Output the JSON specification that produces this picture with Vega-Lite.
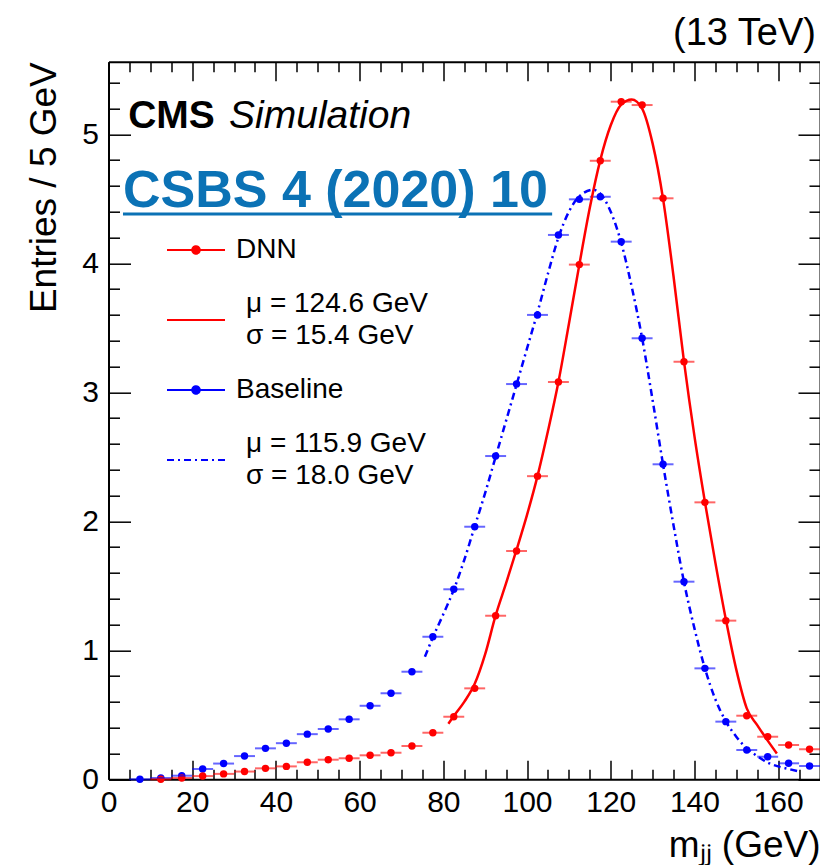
{
  "$schema": "https://vega.github.io/schema/vega-lite/v6.json",
  "width": 711.5,
  "height": 717.6,
  "autosize": {"type": "none"},
  "padding": {"left": 108.5, "top": 61.7, "right": 0, "bottom": 85.7},
  "title": {"text": "(13 TeV)", "anchor": "end", "fontSize": 38, "fontWeight": "normal", "font": "Liberation Sans", "color": "#000", "offset": 8, "dx": -5},
  "datasets": {
    "hist": [
      {"series": "Baseline", "m": 7.5, "lo": 5, "hi": 10, "entries": 0.0},
      {"series": "Baseline", "m": 12.5, "lo": 10, "hi": 15, "entries": 0.01},
      {"series": "Baseline", "m": 17.5, "lo": 15, "hi": 20, "entries": 0.028},
      {"series": "Baseline", "m": 22.5, "lo": 20, "hi": 25, "entries": 0.08},
      {"series": "Baseline", "m": 27.5, "lo": 25, "hi": 30, "entries": 0.122},
      {"series": "Baseline", "m": 32.5, "lo": 30, "hi": 35, "entries": 0.18},
      {"series": "Baseline", "m": 37.5, "lo": 35, "hi": 40, "entries": 0.24},
      {"series": "Baseline", "m": 42.5, "lo": 40, "hi": 45, "entries": 0.28},
      {"series": "Baseline", "m": 47.5, "lo": 45, "hi": 50, "entries": 0.35},
      {"series": "Baseline", "m": 52.5, "lo": 50, "hi": 55, "entries": 0.39},
      {"series": "Baseline", "m": 57.5, "lo": 55, "hi": 60, "entries": 0.465},
      {"series": "Baseline", "m": 62.5, "lo": 60, "hi": 65, "entries": 0.57},
      {"series": "Baseline", "m": 67.5, "lo": 65, "hi": 70, "entries": 0.667},
      {"series": "Baseline", "m": 72.5, "lo": 70, "hi": 75, "entries": 0.834},
      {"series": "Baseline", "m": 77.5, "lo": 75, "hi": 80, "entries": 1.105},
      {"series": "Baseline", "m": 82.5, "lo": 80, "hi": 85, "entries": 1.473},
      {"series": "Baseline", "m": 87.5, "lo": 85, "hi": 90, "entries": 1.958},
      {"series": "Baseline", "m": 92.5, "lo": 90, "hi": 95, "entries": 2.506},
      {"series": "Baseline", "m": 97.5, "lo": 95, "hi": 100, "entries": 3.064},
      {"series": "Baseline", "m": 102.5, "lo": 100, "hi": 105, "entries": 3.6},
      {"series": "Baseline", "m": 107.5, "lo": 105, "hi": 110, "entries": 4.22},
      {"series": "Baseline", "m": 112.5, "lo": 110, "hi": 115, "entries": 4.496},
      {"series": "Baseline", "m": 117.5, "lo": 115, "hi": 120, "entries": 4.516},
      {"series": "Baseline", "m": 122.5, "lo": 120, "hi": 125, "entries": 4.168},
      {"series": "Baseline", "m": 127.5, "lo": 125, "hi": 130, "entries": 3.419},
      {"series": "Baseline", "m": 132.5, "lo": 130, "hi": 135, "entries": 2.442},
      {"series": "Baseline", "m": 137.5, "lo": 135, "hi": 140, "entries": 1.532},
      {"series": "Baseline", "m": 142.5, "lo": 140, "hi": 145, "entries": 0.86},
      {"series": "Baseline", "m": 147.5, "lo": 145, "hi": 150, "entries": 0.447},
      {"series": "Baseline", "m": 152.5, "lo": 150, "hi": 155, "entries": 0.227},
      {"series": "Baseline", "m": 157.5, "lo": 155, "hi": 160, "entries": 0.175},
      {"series": "Baseline", "m": 162.5, "lo": 160, "hi": 165, "entries": 0.124},
      {"series": "Baseline", "m": 167.5, "lo": 165, "hi": 170, "entries": 0.103},
      {"series": "DNN", "m": 12.5, "lo": 10, "hi": 15, "entries": 0.0},
      {"series": "DNN", "m": 17.5, "lo": 15, "hi": 20, "entries": 0.01},
      {"series": "DNN", "m": 22.5, "lo": 20, "hi": 25, "entries": 0.025},
      {"series": "DNN", "m": 27.5, "lo": 25, "hi": 30, "entries": 0.042},
      {"series": "DNN", "m": 32.5, "lo": 30, "hi": 35, "entries": 0.06},
      {"series": "DNN", "m": 37.5, "lo": 35, "hi": 40, "entries": 0.085},
      {"series": "DNN", "m": 42.5, "lo": 40, "hi": 45, "entries": 0.1},
      {"series": "DNN", "m": 47.5, "lo": 45, "hi": 50, "entries": 0.132},
      {"series": "DNN", "m": 52.5, "lo": 50, "hi": 55, "entries": 0.152},
      {"series": "DNN", "m": 57.5, "lo": 55, "hi": 60, "entries": 0.163},
      {"series": "DNN", "m": 62.5, "lo": 60, "hi": 65, "entries": 0.186},
      {"series": "DNN", "m": 67.5, "lo": 65, "hi": 70, "entries": 0.206},
      {"series": "DNN", "m": 72.5, "lo": 70, "hi": 75, "entries": 0.258},
      {"series": "DNN", "m": 77.5, "lo": 75, "hi": 80, "entries": 0.361},
      {"series": "DNN", "m": 82.5, "lo": 80, "hi": 85, "entries": 0.485},
      {"series": "DNN", "m": 87.5, "lo": 85, "hi": 90, "entries": 0.705},
      {"series": "DNN", "m": 92.5, "lo": 90, "hi": 95, "entries": 1.268},
      {"series": "DNN", "m": 97.5, "lo": 95, "hi": 100, "entries": 1.77},
      {"series": "DNN", "m": 102.5, "lo": 100, "hi": 105, "entries": 2.35},
      {"series": "DNN", "m": 107.5, "lo": 105, "hi": 110, "entries": 3.08},
      {"series": "DNN", "m": 112.5, "lo": 110, "hi": 115, "entries": 3.99},
      {"series": "DNN", "m": 117.5, "lo": 115, "hi": 120, "entries": 4.795},
      {"series": "DNN", "m": 122.5, "lo": 120, "hi": 125, "entries": 5.253},
      {"series": "DNN", "m": 127.5, "lo": 125, "hi": 130, "entries": 5.227},
      {"series": "DNN", "m": 132.5, "lo": 130, "hi": 135, "entries": 4.504},
      {"series": "DNN", "m": 137.5, "lo": 135, "hi": 140, "entries": 3.237},
      {"series": "DNN", "m": 142.5, "lo": 140, "hi": 145, "entries": 2.147},
      {"series": "DNN", "m": 147.5, "lo": 145, "hi": 150, "entries": 1.23},
      {"series": "DNN", "m": 152.5, "lo": 150, "hi": 155, "entries": 0.493},
      {"series": "DNN", "m": 157.5, "lo": 155, "hi": 160, "entries": 0.33},
      {"series": "DNN", "m": 162.5, "lo": 160, "hi": 165, "entries": 0.266},
      {"series": "DNN", "m": 167.5, "lo": 165, "hi": 170, "entries": 0.233}
    ],
    "fitDNN": [
      {"series": "DNN fit", "m": 81.2, "entries": 0.43},
      {"series": "DNN fit", "m": 82.5, "entries": 0.49},
      {"series": "DNN fit", "m": 85, "entries": 0.6},
      {"series": "DNN fit", "m": 87.5, "entries": 0.74},
      {"series": "DNN fit", "m": 90, "entries": 0.97},
      {"series": "DNN fit", "m": 92.5, "entries": 1.27},
      {"series": "DNN fit", "m": 95, "entries": 1.52},
      {"series": "DNN fit", "m": 97.5, "entries": 1.78},
      {"series": "DNN fit", "m": 100, "entries": 2.05},
      {"series": "DNN fit", "m": 102.5, "entries": 2.35},
      {"series": "DNN fit", "m": 105, "entries": 2.7},
      {"series": "DNN fit", "m": 107.5, "entries": 3.08},
      {"series": "DNN fit", "m": 110, "entries": 3.53},
      {"series": "DNN fit", "m": 112.5, "entries": 3.99},
      {"series": "DNN fit", "m": 115, "entries": 4.43},
      {"series": "DNN fit", "m": 117.5, "entries": 4.8},
      {"series": "DNN fit", "m": 120, "entries": 5.07},
      {"series": "DNN fit", "m": 122.5, "entries": 5.23},
      {"series": "DNN fit", "m": 125, "entries": 5.27},
      {"series": "DNN fit", "m": 127.5, "entries": 5.2},
      {"series": "DNN fit", "m": 130, "entries": 4.93},
      {"series": "DNN fit", "m": 132.5, "entries": 4.5},
      {"series": "DNN fit", "m": 135, "entries": 3.9},
      {"series": "DNN fit", "m": 137.5, "entries": 3.24},
      {"series": "DNN fit", "m": 140, "entries": 2.66},
      {"series": "DNN fit", "m": 142.5, "entries": 2.15},
      {"series": "DNN fit", "m": 145, "entries": 1.68},
      {"series": "DNN fit", "m": 147.5, "entries": 1.24},
      {"series": "DNN fit", "m": 150, "entries": 0.85},
      {"series": "DNN fit", "m": 152.5, "entries": 0.55},
      {"series": "DNN fit", "m": 155, "entries": 0.42},
      {"series": "DNN fit", "m": 157.5, "entries": 0.3},
      {"series": "DNN fit", "m": 159.7, "entries": 0.2}
    ],
    "fitBase": [
      {"series": "Baseline fit", "m": 75.6, "entries": 0.95},
      {"series": "Baseline fit", "m": 77.5, "entries": 1.1},
      {"series": "Baseline fit", "m": 80, "entries": 1.28},
      {"series": "Baseline fit", "m": 82.5, "entries": 1.47},
      {"series": "Baseline fit", "m": 85, "entries": 1.7},
      {"series": "Baseline fit", "m": 87.5, "entries": 1.96},
      {"series": "Baseline fit", "m": 90, "entries": 2.22},
      {"series": "Baseline fit", "m": 92.5, "entries": 2.5},
      {"series": "Baseline fit", "m": 95, "entries": 2.78},
      {"series": "Baseline fit", "m": 97.5, "entries": 3.06},
      {"series": "Baseline fit", "m": 100, "entries": 3.34},
      {"series": "Baseline fit", "m": 102.5, "entries": 3.62},
      {"series": "Baseline fit", "m": 105, "entries": 3.92},
      {"series": "Baseline fit", "m": 107.5, "entries": 4.2},
      {"series": "Baseline fit", "m": 110, "entries": 4.4},
      {"series": "Baseline fit", "m": 112.5, "entries": 4.52},
      {"series": "Baseline fit", "m": 115.9, "entries": 4.57},
      {"series": "Baseline fit", "m": 117.5, "entries": 4.54},
      {"series": "Baseline fit", "m": 120, "entries": 4.4},
      {"series": "Baseline fit", "m": 122.5, "entries": 4.16},
      {"series": "Baseline fit", "m": 125, "entries": 3.82},
      {"series": "Baseline fit", "m": 127.5, "entries": 3.42},
      {"series": "Baseline fit", "m": 130, "entries": 2.94},
      {"series": "Baseline fit", "m": 132.5, "entries": 2.44},
      {"series": "Baseline fit", "m": 135, "entries": 1.97},
      {"series": "Baseline fit", "m": 137.5, "entries": 1.53},
      {"series": "Baseline fit", "m": 140, "entries": 1.17},
      {"series": "Baseline fit", "m": 142.5, "entries": 0.86},
      {"series": "Baseline fit", "m": 145, "entries": 0.62},
      {"series": "Baseline fit", "m": 147.5, "entries": 0.45},
      {"series": "Baseline fit", "m": 150, "entries": 0.33},
      {"series": "Baseline fit", "m": 152.5, "entries": 0.24},
      {"series": "Baseline fit", "m": 155, "entries": 0.18},
      {"series": "Baseline fit", "m": 157.5, "entries": 0.13},
      {"series": "Baseline fit", "m": 160, "entries": 0.1},
      {"series": "Baseline fit", "m": 162.5, "entries": 0.08},
      {"series": "Baseline fit", "m": 165, "entries": 0.06}
    ]
  },
  "resolve": {"axis": {"x": "independent", "y": "independent"}},
  "layer": [
    {
      "data": {"name": "hist"},
      "mark": {"type": "point", "filled": true, "size": 55, "opacity": 1, "shape": "circle"},
      "encoding": {
        "x": {"field": "m", "type": "quantitative", "scale": {"domain": [0, 170], "nice": false, "zero": false},
          "axis": {"orient": "bottom", "values": [5, 10, 15, 25, 30, 35, 45, 50, 55, 65, 70, 75, 85, 90, 95, 105, 110, 115, 125, 130, 135, 145, 150, 155, 165], "tickSize": -10, "labels": false, "domain": false, "title": null}},
        "y": {"field": "entries", "type": "quantitative", "scale": {"domain": [0, 5.563], "nice": false, "zero": false},
          "axis": {"orient": "left", "values": [0.2, 0.4, 0.6, 0.8, 1.2, 1.4, 1.6, 1.8, 2.2, 2.4, 2.6, 2.8, 3.2, 3.4, 3.6, 3.8, 4.2, 4.4, 4.6, 4.8, 5.2, 5.4], "tickSize": -11, "labels": false, "domain": false, "title": null}},
        "color": {"field": "series", "type": "nominal", "scale": {"domain": ["DNN", "DNN fit", "Baseline", "Baseline fit"], "range": ["#ff0000", "#ff0000", "#0000ff", "#0000ff"]},
          "legend": {
            "orient": "none", "legendX": 57.5, "legendY": 158.3, "title": null, "padding": 0,
            "symbolType": "M-1,0H1", "symbolSize": 3364, "symbolStrokeWidth": 2, "symbolOpacity": 1,
            "labelFontSize": 28, "labelFont": "Liberation Sans", "labelColor": "#000", "labelLimit": 400, "labelOffset": 10, "rowPadding": 10,
            "labelExpr": "datum.label == 'DNN fit' ? ['μ = 124.6 GeV', 'σ = 15.4 GeV'] : datum.label == 'Baseline fit' ? ['μ = 115.9 GeV', 'σ = 18.0 GeV'] : ['', datum.label, '']",
            "encode": {
              "symbols": {
                "update": {
                  "shape": {"signal": "(datum.value == 'DNN' || datum.value == 'Baseline') ? 'M-1,0H1M-0.13,0A0.13,0.13,0,1,1,0.13,0A0.13,0.13,0,1,1,-0.13,0Z' : 'M-1,0H1'"},
                  "strokeDash": {"signal": "datum.value == 'Baseline fit' ? [7, 4, 2, 4] : [1, 0]"},
                  "stroke": {"signal": "(datum.value == 'DNN' || datum.value == 'DNN fit') ? '#ff0000' : '#0000ff'"},
                  "fill": {"signal": "(datum.value == 'DNN' || datum.value == 'DNN fit') ? '#ff0000' : '#0000ff'"},
                  "strokeWidth": {"value": 2},
                  "opacity": {"value": 1}
                }
              },
              "labels": {
                "update": {
                  "dy": {"value": -16},
                  "dx": {"signal": "(datum.value == 'DNN fit' || datum.value == 'Baseline fit') ? 10 : 0"},
                  "lineHeight": {"signal": "(datum.value == 'DNN fit' || datum.value == 'Baseline fit') ? 32 : 16"}
                }
              }
            }
          }
        }
      }
    },
    {
      "data": {"name": "hist"},
      "mark": {"type": "rule", "strokeWidth": 2, "opacity": 0.6},
      "encoding": {
        "x": {"field": "lo", "type": "quantitative", "scale": {"domain": [0, 170], "nice": false, "zero": false},
          "axis": {"orient": "bottom", "values": [0, 20, 40, 60, 80, 100, 120, 140, 160], "tickSize": -19, "labelPadding": 27, "labelFontSize": 30, "title": "mⱼⱼ (GeV)", "titleFontSize": 37, "titleAnchor": "end", "titleAlign": "right", "titlePadding": 10}},
        "x2": {"field": "hi"},
        "y": {"field": "entries", "type": "quantitative", "scale": {"domain": [0, 5.563], "nice": false, "zero": false},
          "axis": {"orient": "left", "values": [0, 1, 2, 3, 4, 5], "tickSize": -22, "labelPadding": 32, "labelFontSize": 30, "title": "Entries / 5 GeV", "titleFontSize": 37, "titleAnchor": "end", "titlePadding": 18}},
        "color": {"field": "series", "type": "nominal", "scale": {"domain": ["DNN", "DNN fit", "Baseline", "Baseline fit"], "range": ["#ff0000", "#ff0000", "#0000ff", "#0000ff"]}, "legend": null}
      }
    },
    {
      "data": {"name": "fitDNN"},
      "mark": {"type": "line", "strokeWidth": 2.5, "interpolate": "monotone"},
      "encoding": {
        "x": {"field": "m", "type": "quantitative", "scale": {"domain": [0, 170], "nice": false, "zero": false},
          "axis": {"orient": "top", "values": [0, 20, 40, 60, 80, 100, 120, 140, 160], "tickSize": -19, "labels": false, "title": null}},
        "y": {"field": "entries", "type": "quantitative", "scale": {"domain": [0, 5.563], "nice": false, "zero": false},
          "axis": {"orient": "right", "values": [0, 1, 2, 3, 4, 5], "tickSize": -22, "labels": false, "title": null}},
        "color": {"field": "series", "type": "nominal", "scale": {"domain": ["DNN", "DNN fit", "Baseline", "Baseline fit"], "range": ["#ff0000", "#ff0000", "#0000ff", "#0000ff"]}, "legend": null}
      }
    },
    {
      "data": {"name": "fitBase"},
      "mark": {"type": "line", "strokeWidth": 2.5, "interpolate": "monotone", "strokeDash": [7, 4, 2, 4]},
      "encoding": {
        "x": {"field": "m", "type": "quantitative", "scale": {"domain": [0, 170], "nice": false, "zero": false},
          "axis": {"orient": "top", "values": [5, 10, 15, 25, 30, 35, 45, 50, 55, 65, 70, 75, 85, 90, 95, 105, 110, 115, 125, 130, 135, 145, 150, 155, 165], "tickSize": -10, "labels": false, "domain": false, "title": null}},
        "y": {"field": "entries", "type": "quantitative", "scale": {"domain": [0, 5.563], "nice": false, "zero": false},
          "axis": {"orient": "right", "values": [0.2, 0.4, 0.6, 0.8, 1.2, 1.4, 1.6, 1.8, 2.2, 2.4, 2.6, 2.8, 3.2, 3.4, 3.6, 3.8, 4.2, 4.4, 4.6, 4.8, 5.2, 5.4], "tickSize": -11, "labels": false, "domain": false, "title": null}},
        "color": {"field": "series", "type": "nominal", "scale": {"domain": ["DNN", "DNN fit", "Baseline", "Baseline fit"], "range": ["#ff0000", "#ff0000", "#0000ff", "#0000ff"]}, "legend": null}
      }
    },
    {
      "data": {"values": [{}]},
      "mark": {"type": "text", "text": "CMS", "fontSize": 39, "fontWeight": "bold", "font": "Liberation Sans", "align": "left", "baseline": "alphabetic", "color": "#000"},
      "encoding": {
        "x": {"datum": 4.7, "type": "quantitative", "axis": null},
        "y": {"datum": 5.05, "type": "quantitative", "axis": null}
      }
    },
    {
      "data": {"values": [{}]},
      "mark": {"type": "text", "text": "Simulation", "fontSize": 39, "fontStyle": "italic", "font": "Liberation Sans", "align": "left", "baseline": "alphabetic", "color": "#000"},
      "encoding": {
        "x": {"datum": 28.8, "type": "quantitative", "axis": null},
        "y": {"datum": 5.05, "type": "quantitative", "axis": null}
      }
    },
    {
      "data": {"values": [{}]},
      "mark": {"type": "text", "text": "CSBS 4 (2020) 10", "fontSize": 52, "fontWeight": "bold", "font": "Liberation Sans", "align": "left", "baseline": "alphabetic", "color": "#0b72b5"},
      "encoding": {
        "x": {"datum": 3.46, "type": "quantitative", "axis": null},
        "y": {"datum": 4.437, "type": "quantitative", "axis": null}
      }
    },
    {
      "data": {"values": [{}]},
      "mark": {"type": "rule", "strokeWidth": 3, "color": "#0b72b5"},
      "encoding": {
        "x": {"datum": 3.46, "type": "quantitative", "axis": null},
        "x2": {"datum": 106},
        "y": {"datum": 4.382, "type": "quantitative", "axis": null}
      }
    }
  ],
  "config": {
    "view": {"stroke": null},
    "font": "Liberation Sans",
    "axis": {"grid": false, "tickColor": "#000", "tickWidth": 1.5, "domainColor": "#000", "domainWidth": 2, "labelColor": "#000", "labelFont": "Liberation Sans", "labelFlush": false, "labelOverlap": false, "titleColor": "#000", "titleFont": "Liberation Sans", "titleFontWeight": "normal", "zindex": 1}
  }
}
